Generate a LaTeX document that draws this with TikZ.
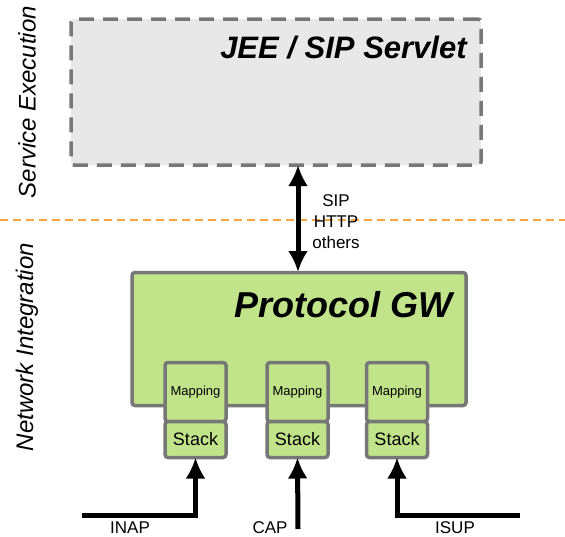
\documentclass[tikz,border=0pt]{standalone}
\usepackage{fontspec}
\setmainfont{Liberation Sans}
\usetikzlibrary{arrows.meta,positioning,calc}
\definecolor{gwgreen}{HTML}{C1E48A}
\definecolor{boxgray}{HTML}{777777}
\definecolor{jeegray}{HTML}{E8E8E8}
\definecolor{lineorange}{HTML}{F7A540}

\begin{document}
\begin{tikzpicture}[x=1pt, y=-1pt, outer sep=0pt, >={Latex[length=21pt,width=20pt]}]
\tikzset{
  gwbox/.style={draw=boxgray, line width=3.5pt, fill=gwgreen, rounded corners=3pt},
  mapbox/.style={gwbox, minimum width=61pt, minimum height=59pt, font=\fontsize{13}{15}\selectfont},
  stackbox/.style={gwbox, minimum width=61pt, minimum height=36pt, font=\fontsize{18}{20}\selectfont},
  side/.style={rotate=90, font=\itshape\fontsize{24}{26}\selectfont},
  proto/.style={font=\fontsize{17}{20}\selectfont},
  sig/.style={line width=5pt}
}
\useasboundingbox (0,0) rectangle (565,536);

% service execution
\node[draw=boxgray, line width=3.5pt, dash pattern=on 15pt off 9pt, fill=jeegray, rounded corners=3pt,
      minimum width=410pt, minimum height=146pt] at (276, 92) (JEE) {};
\node[anchor=east, font=\bfseries\itshape\fontsize{31}{34}\selectfont] at (470, 48) (JEE_label) {JEE / SIP Servlet};
\node[side] at (27, 102) (SE) {Service Execution};

\draw[lineorange, line width=1.3pt, dash pattern=on 8pt off 5pt] (0, 220) -- (565, 220);

% network integration
\node[side] at (27, 347) (NI) {Network Integration};
\node[gwbox, minimum width=334pt, minimum height=133pt] at (299, 339) (GW) {};
\node[anchor=east, font=\bfseries\itshape\fontsize{36}{40}\selectfont] at (456, 305) (GW_label) {Protocol GW};

\node[mapbox] at (195.5, 392) (MAP_INAP) {Mapping};
\node[mapbox] at (297.5, 392) (MAP_CAP) {Mapping};
\node[mapbox] at (397, 392) (MAP_ISUP) {Mapping};
\node[stackbox, below=0pt of MAP_INAP] (STACK_INAP) {Stack};
\node[stackbox, below=0pt of MAP_CAP] (STACK_CAP) {Stack};
\node[stackbox, below=0pt of MAP_ISUP] (STACK_ISUP) {Stack};

% SIP link
\coordinate (UP) at (298, 165);
\coordinate (DOWN) at (298, 272);
\draw[<->, sig] (DOWN) -- (UP);
\node[proto, align=center, font=\fontsize{17}{21}\selectfont] at (336, 222) (SIP) {SIP\\HTTP\\others};

% legacy signalling
\coordinate (IN_INAP) at (82, 515);
\coordinate (IN_CAP) at (298, 529);
\coordinate (IN_ISUP) at (520, 515);
\draw[->, sig] (IN_INAP) -| (STACK_INAP.south);
\draw[->, sig] (IN_CAP) -- (STACK_CAP.south);
\draw[->, sig] (IN_ISUP) -| (STACK_ISUP.south);
\node[proto, inner sep=0pt, anchor=base] at (130, 533) (INAP) {INAP};
\node[proto, inner sep=0pt, anchor=base] at (270, 533) (CAP) {CAP};
\node[proto, inner sep=0pt, anchor=base] at (455, 533) (ISUP) {ISUP};
\end{tikzpicture}
\end{document}
